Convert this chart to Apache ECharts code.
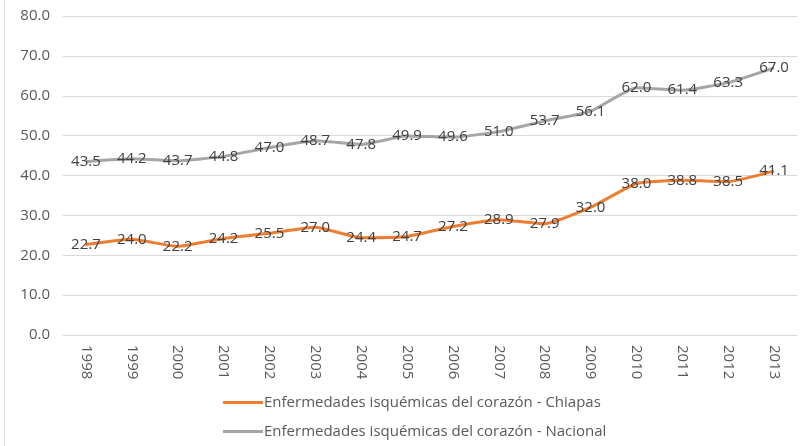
<!DOCTYPE html>
<html>
<head>
<meta charset="utf-8">
<script src="https://cdn.jsdelivr.net/npm/echarts@6/dist/echarts.min.js"></script>
<style>
  html, body { margin: 0; padding: 0; background: #fff; }
  #main { width: 809px; height: 446px; }
</style>
</head>
<body>
<div id="main"></div>
<script>
// datos
var years = ['1998', '1999', '2000', '2001', '2002', '2003', '2004', '2005',
             '2006', '2007', '2008', '2009', '2010', '2011', '2012', '2013'];
var chiapas = [22.7, 24.0, 22.2, 24.2, 25.5, 27.0, 24.4, 24.7, 27.2, 28.9, 27.9, 32.0, 38.0, 38.8, 38.5, 41.1];
var nacional = [43.5, 44.2, 43.7, 44.8, 47.0, 48.7, 47.8, 49.9, 49.6, 51.0, 53.7, 56.1, 62.0, 61.4, 63.3, 67.0];
var nombreChiapas = 'Enfermedades isquémicas del corazón - Chiapas';
var nombreNacional = 'Enfermedades isquémicas del corazón - Nacional';

var myChart = echarts.init(document.getElementById('main'));

var etiqueta = {
    show: true,
    position: 'inside',
    color: '#404040',
    fontSize: 15,
    fontFamily: 'Open Sans',
    formatter: function(p) { return p.value.toFixed(1); }
};

var option = {
    animation: false,
    textStyle: { fontFamily: 'Open Sans' },
    grid: { left: 63, right: 12, top: 16, bottom: 111 },
    legend: {
        orient: 'vertical',
        left: 218,
        top: 390,
        itemWidth: 40,
        itemHeight: 3,
        itemGap: 14,
        icon: 'rect',
        textStyle: { color: '#595959', fontSize: 15, padding: [0, 0, 0, -4] },
        data: [nombreChiapas, nombreNacional]
    },
    xAxis: {
        type: 'category',
        data: years,
        boundaryGap: true,
        axisLine: { show: false },
        axisTick: { show: false },
        axisLabel: { rotate: -90, color: '#595959', fontSize: 15, margin: 10 }
    },
    yAxis: {
        type: 'value',
        min: 0,
        max: 80,
        interval: 10,
        axisLine: { show: false },
        axisTick: { show: false },
        axisLabel: {
            color: '#595959',
            fontSize: 15,
            margin: 13,
            formatter: function(v) { return v.toFixed(1); }
        },
        splitLine: { lineStyle: { color: '#d9d9d9', width: 1 } }
    },
    graphic: [{
        type: 'line',
        shape: { x1: 4.5, y1: 0, x2: 4.5, y2: 446 },
        style: { stroke: '#d9d9d9', lineWidth: 1 }
    }],
    series: [{
        name: nombreChiapas,
        type: 'line',
        data: chiapas,
        symbol: 'circle',
        symbolSize: 0.01,
        showSymbol: true,
        smooth: 0.15,
        lineStyle: { color: '#ED7D31', width: 3 },
        itemStyle: { color: '#ED7D31' },
        label: etiqueta
    }, {
        name: nombreNacional,
        type: 'line',
        data: nacional,
        symbol: 'circle',
        symbolSize: 0.01,
        showSymbol: true,
        smooth: 0.15,
        lineStyle: { color: '#A5A5A5', width: 3 },
        itemStyle: { color: '#A5A5A5' },
        label: etiqueta
    }]
};
myChart.setOption(option);
</script>
</body>
</html>
